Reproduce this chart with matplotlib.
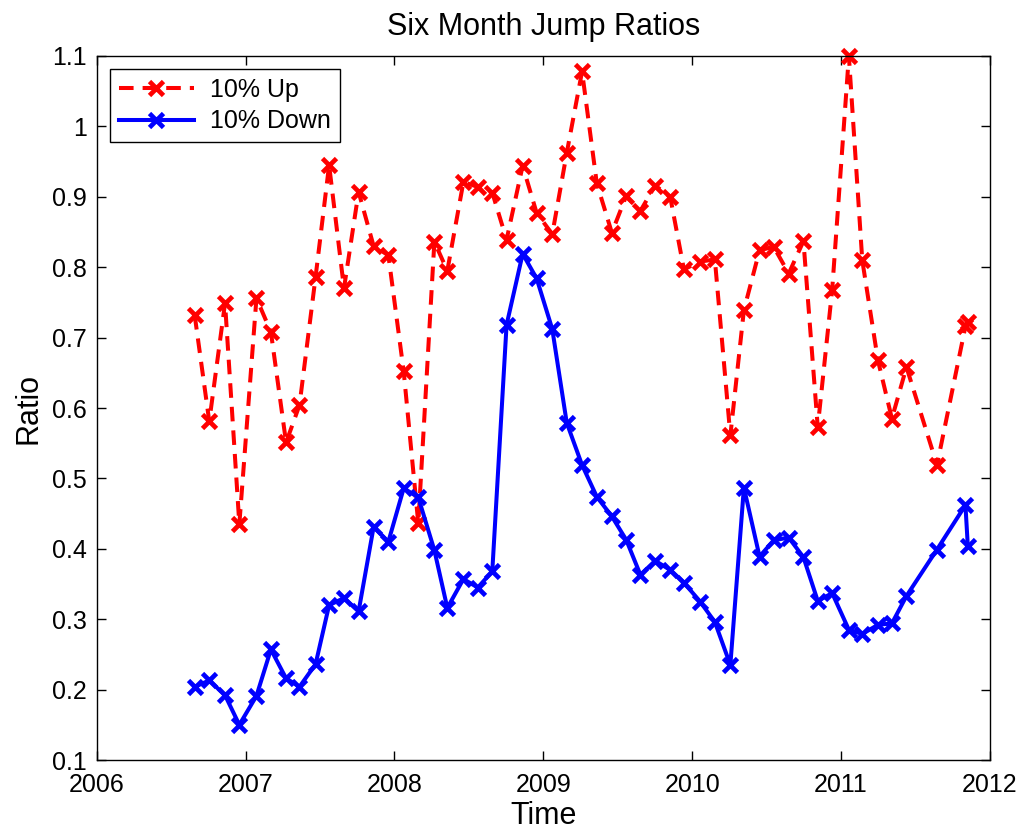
import matplotlib
matplotlib.use("Agg")
import matplotlib.pyplot as plt

plt.rcParams['font.family'] = ['Liberation Sans', 'DejaVu Sans']
plt.rcParams['lines.scale_dashes'] = False

# Observation times (decimal years)
dates = [2006.658, 2006.756, 2006.862, 2006.958, 2007.073, 2007.170, 2007.272,
         2007.362, 2007.470, 2007.561, 2007.661, 2007.759, 2007.860, 2007.959,
         2008.062, 2008.160, 2008.268, 2008.355, 2008.463, 2008.560, 2008.657,
         2008.753, 2008.861, 2008.955, 2009.060, 2009.157, 2009.260, 2009.359,
         2009.460, 2009.556, 2009.652, 2009.751, 2009.852, 2009.944, 2010.053,
         2010.152, 2010.256, 2010.347, 2010.452, 2010.547, 2010.648, 2010.747,
         2010.843, 2010.940, 2011.052, 2011.142, 2011.247, 2011.341, 2011.439,
         2011.644, 2011.835, 2011.851]

# Six-month jump ratios for 10% up moves
up_ratio = [0.732, 0.581, 0.749, 0.435, 0.756, 0.708, 0.551, 0.604, 0.786, 0.945,
            0.770, 0.907, 0.830, 0.817, 0.652, 0.436, 0.836, 0.795, 0.921, 0.914,
            0.906, 0.839, 0.944, 0.877, 0.847, 0.962, 1.078, 0.919, 0.849, 0.901,
            0.880, 0.916, 0.900, 0.797, 0.808, 0.811, 0.561, 0.739, 0.824, 0.829,
            0.791, 0.837, 0.573, 0.768, 1.100, 0.810, 0.668, 0.585, 0.658, 0.519,
            0.716, 0.722]

# Six-month jump ratios for 10% down moves
down_ratio = [0.204, 0.213, 0.192, 0.150, 0.191, 0.257, 0.216, 0.204, 0.236, 0.320,
              0.330, 0.311, 0.431, 0.410, 0.486, 0.473, 0.398, 0.316, 0.357, 0.345,
              0.368, 0.718, 0.819, 0.784, 0.712, 0.579, 0.519, 0.474, 0.446, 0.413,
              0.363, 0.383, 0.370, 0.352, 0.325, 0.296, 0.235, 0.487, 0.389, 0.412,
              0.416, 0.388, 0.326, 0.337, 0.285, 0.279, 0.292, 0.294, 0.333, 0.399,
              0.462, 0.404]

x_ticks = [2006, 2007, 2008, 2009, 2010, 2011, 2012]
y_ticks = [0.1, 0.2, 0.3, 0.4, 0.5, 0.6, 0.7, 0.8, 0.9, 1.0, 1.1]
y_tick_labels = ['0.1', '0.2', '0.3', '0.4', '0.5', '0.6', '0.7', '0.8', '0.9', '1', '1.1']

fig = plt.figure(figsize=(10.26, 8.31), dpi=100)
ax = fig.add_axes([96.7 / 1026, 1 - 760 / 831, (990 - 96.7) / 1026, (760 - 56) / 831])

ax.plot(dates, up_ratio, color='#ff0000', linestyle='--', dashes=(10.5, 6.5),
        linewidth=2.9, marker='x', markersize=9.5, markeredgewidth=3.4,
        label='10% Up', clip_on=False)
ax.plot(dates, down_ratio, color='#0000ff', linestyle='-', linewidth=2.9,
        marker='x', markersize=9.5, markeredgewidth=3.4, label='10% Down',
        clip_on=False)

ax.set_xlim(2006, 2012)
ax.set_ylim(0.1, 1.1)
ax.set_xticks(x_ticks)
ax.set_xticklabels([str(t) for t in x_ticks])
ax.set_yticks(y_ticks)
ax.set_yticklabels(y_tick_labels)

ax.tick_params(direction='in', length=6.5, width=1.0, labelsize=18,
               top=True, right=True)
ax.tick_params(axis='x', pad=9)
ax.tick_params(axis='y', pad=7)
for spine in ax.spines.values():
    spine.set_linewidth(1.0)

ax.set_title('Six Month Jump Ratios', fontsize=22, pad=15)
ax.set_xlabel('Time', fontsize=22, labelpad=3)
ax.set_ylabel('Ratio', fontsize=22, labelpad=6)

leg = ax.legend(loc='upper left', bbox_to_anchor=(0.0149, 0.9815),
                borderaxespad=0, fontsize=18, numpoints=1, handlelength=3.0,
                handletextpad=0.65, borderpad=0.35, labelspacing=0.3,
                fancybox=False, framealpha=1, edgecolor='black')
leg.get_frame().set_linewidth(1.0)

fig.savefig('out.png', dpi=100)
